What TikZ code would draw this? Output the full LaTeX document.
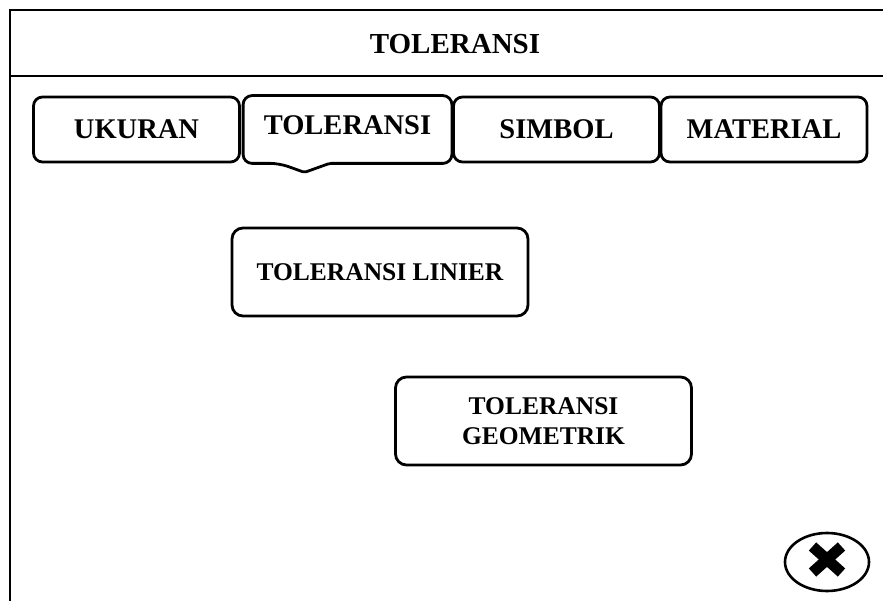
\documentclass[tikz,border=0pt]{standalone}
\usepackage{fontspec}
\setmainfont{Liberation Serif}
\usetikzlibrary{calc,shapes.geometric}
\tikzset{
  frame/.style={line width=2.8pt, black},
  tabbox/.style={draw, line width=2.8pt, rounded corners=9pt, minimum width=206pt,
    minimum height=65pt, inner sep=0pt, font=\bfseries\fontsize{28.5}{30}\selectfont},
  menubox/.style={draw, line width=2.8pt, rounded corners=11pt, minimum width=296pt,
    minimum height=88pt, inner sep=0pt, align=center,
    font=\bfseries\fontsize{25.5}{30}\selectfont},
  heading/.style={font=\bfseries\fontsize{29}{31}\selectfont},
}
\begin{document}
\begin{tikzpicture}[x=1pt,y=-1pt]
\useasboundingbox (0,0) rectangle (883,601);

% window frame and title bar
\coordinate (tl) at (10,10);
\coordinate (tr) at (883,10);
\coordinate (bl) at (10,601);
\coordinate (sl) at (10,76);
\coordinate (sr) at (883,76);
\draw[frame] (tr) -- (tl) -- (bl);
\draw[frame] (sl) -- (sr);
\node[heading] (title) at (455,44) {TOLERANSI};

% tab bar
\node[tabbox] (tukuran) at (136.5,129.5) {UKURAN};
\node[tabbox, draw=none] (ttol) at (347.5,129.5) {};
\node[font=\bfseries\fontsize{28.5}{30}\selectfont] (ttoltext) at (347.5,125) {TOLERANSI};
\node[tabbox] (tsimbol) at (556.5,129.5) {SIMBOL};
\node[tabbox] (tmaterial) at (764,129.5) {MATERIAL};

% active tab with pointer
\coordinate (p1) at ($(ttol.south)+(-68,0)$);
\coordinate (tip) at ($(ttol.south)+(-43,9)$);
\coordinate (p2) at ($(ttol.south)+(-18,0)$);
\draw[line width=2.8pt] (p2) [rounded corners=9pt] -- (ttol.south east) -- (ttol.north east)
  -- (ttol.north west) -- (ttol.south west) -- (p1) [rounded corners=2pt] -- (tip) -- cycle;

% menu buttons
\node[menubox] (linier) at (380,272) {TOLERANSI LINIER};
\node[menubox] (geometrik) at (543.5,421) {TOLERANSI\\GEOMETRIK};

% close button
\node[draw, ellipse, line width=2.6pt, minimum width=84pt, minimum height=58pt,
  inner sep=0pt] (close) at (827,562) {};
\draw[line width=11pt] ($(close.center)+(-14.5,-15.5)$) -- ($(close.center)+(14.5,10.5)$);
\draw[line width=11pt] ($(close.center)+(14.5,-15.5)$) -- ($(close.center)+(-14.5,10.5)$);
\end{tikzpicture}
\end{document}
